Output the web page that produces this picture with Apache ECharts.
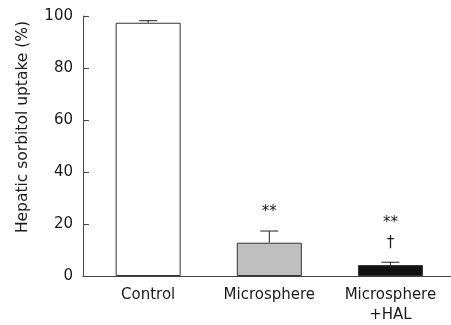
<!DOCTYPE html>
<html>
<head>
<meta charset="utf-8">
<script src="https://cdn.jsdelivr.net/npm/echarts@6/dist/echarts.min.js"></script>
<style>html,body{margin:0;padding:0;background:#fff}#c{width:451px;height:325px}</style>
</head>
<body>
<div id="c"></div>
<script>
var categories = ['Control', 'Microsphere', 'Microsphere\n+HAL'];
var values = [97.4, 12.8, 4.2];
var errorTop = [98.2, 17.3, 5.3];
var barColors = ['#ffffff', '#c0c0c0', '#111111'];
var yTicks = [0, 20, 40, 60, 80, 100];
var annotCat = [1, 2, 2];
var annotY = [24.6, 20.4, 12.7];
var annotText = ['**', '**', '\u2020'];

var FONT = 'DejaVu Sans';
var AX = '#444';
var TXT = '#1a1a1a';
var chart = echarts.init(document.getElementById('c'), null, {renderer: 'canvas'});

var option = {
  animation: false,
  backgroundColor: '#fff',
  grid: [
    {left: 83, right: 0, top: 16, bottom: 49},
    {left: 87.6, right: -7.9, top: 16, bottom: 49}
  ],
  xAxis: [
    {type: 'category', gridIndex: 0, data: categories,
     axisLine: {show: true, lineStyle: {color: AX, width: 1}},
     axisTick: {show: false}, axisLabel: {show: false}, splitLine: {show: false}},
    {type: 'category', gridIndex: 1, data: categories,
     axisLine: {show: false}, axisTick: {show: false}, splitLine: {show: false},
     axisLabel: {show: true, color: TXT, fontFamily: FONT, fontSize: 15, margin: 9, lineHeight: 20, interval: 0}}
  ],
  yAxis: [
    {type: 'value', gridIndex: 0, min: yTicks[0], max: yTicks[yTicks.length - 1], interval: yTicks[1] - yTicks[0],
     name: 'Hepatic sorbitol uptake (%)', nameLocation: 'middle', nameGap: 52,
     nameTextStyle: {color: TXT, fontFamily: FONT, fontSize: 15.5, padding: [0, 0, 0, 38]},
     axisLine: {show: true, lineStyle: {color: AX, width: 1}},
     axisTick: {show: true, inside: true, length: 6, lineStyle: {color: AX}},
     axisLabel: {color: TXT, fontFamily: FONT, fontSize: 15, margin: 10},
     splitLine: {show: false}},
    {type: 'value', gridIndex: 1, min: yTicks[0], max: yTicks[yTicks.length - 1], show: false}
  ],
  series: [
    {type: 'bar', xAxisIndex: 1, yAxisIndex: 1, barWidth: 65,
     data: values.map(function (v, i) {
       return {value: v, itemStyle: {color: barColors[i], borderColor: '#333', borderWidth: 1}};
     })},
    {type: 'custom', xAxisIndex: 1, yAxisIndex: 1, z: 5,
     data: values.map(function (v, i) { return [i, v, errorTop[i]]; }),
     renderItem: function (params, api) {
       var i = api.value(0);
       var lo = api.coord([i, api.value(1)]);
       var hi = api.coord([i, api.value(2)]);
       var hw = 9;
       var st = {stroke: '#222', lineWidth: 1};
       return {type: 'group', children: [
         {type: 'line', shape: {x1: lo[0], y1: lo[1], x2: hi[0], y2: hi[1]}, style: st},
         {type: 'line', shape: {x1: hi[0] - hw, y1: hi[1], x2: hi[0] + hw, y2: hi[1]}, style: st}
       ]};
     }},
    {type: 'custom', xAxisIndex: 1, yAxisIndex: 1, z: 6,
     data: annotCat.map(function (c, i) { return [c, annotY[i], i]; }),
     renderItem: function (params, api) {
       var p = api.coord([api.value(0), api.value(1)]);
       return {type: 'text', x: p[0], y: p[1],
         style: {text: annotText[api.value(2)], fill: TXT, font: '15px ' + FONT,
                 align: 'center', verticalAlign: 'middle'}};
     }}
  ]
};
chart.setOption(option);
</script>
</body>
</html>
